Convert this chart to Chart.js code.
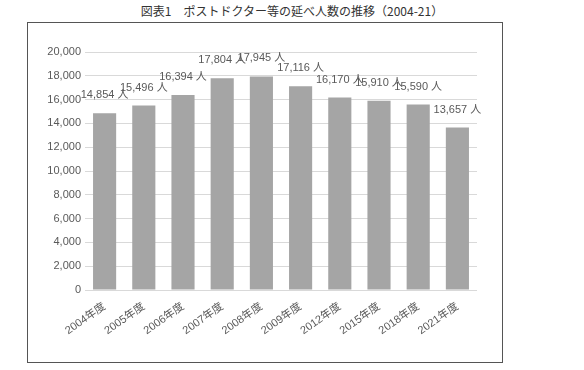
<!DOCTYPE html>
<html><head><meta charset="utf-8">
<script src="https://cdn.jsdelivr.net/npm/chart.js@4"></script>
<style>
html,body{margin:0;padding:0;background:#fff;}
#wrap{position:relative;width:584px;height:370px;}
#title{position:absolute;left:0;top:2px;width:584px;text-align:center;font:12px "Noto Sans CJK JP",sans-serif;color:#333;}
#frame{position:absolute;left:27px;top:22px;width:474px;height:339px;border:1px solid #555;box-sizing:content-box;}
canvas{position:absolute;left:0;top:0;}
</style></head>
<body>
<div id="wrap">
<div id="title">図表1　ポストドクター等の延べ人数の推移（2004-21）</div>
<div id="frame"></div>
<canvas id="c" width="584" height="370"></canvas>
</div>
<script>
const categories = ["2004年度","2005年度","2006年度","2007年度","2008年度","2009年度","2012年度","2015年度","2018年度","2021年度"];
const values = [14854,15496,16394,17804,17945,17116,16170,15910,15590,13657];
const unit = " 人";
const yMin = 0, yMax = 20000, yStep = 2000;

const FONT = '"Liberation Sans","Noto Sans CJK JP",sans-serif';

const barLabels = {
  id:'barLabels',
  afterDatasetsDraw(chart){
    const ctx = chart.ctx;
    const meta = chart.getDatasetMeta(0);
    ctx.save();
    ctx.font = '11px ' + FONT;
    ctx.fillStyle = '#595959';
    ctx.textAlign = 'center';
    ctx.textBaseline = 'middle';
    meta.data.forEach((bar,i)=>{
      ctx.fillText(values[i].toLocaleString('en-US') + unit, bar.x, bar.y - 18);
    });
    ctx.restore();
  }
};

new Chart(document.getElementById('c'),{
  type:'bar',
  data:{labels:categories,datasets:[{data:values,backgroundColor:'#a5a5a5',barPercentage:0.59,categoryPercentage:1}]},
  options:{
    responsive:false,animation:false,
    layout:{padding:{left:28,right:107,top:52,bottom:18}},
    plugins:{legend:{display:false},tooltip:{enabled:false}},
    scales:{
      y:{min:yMin,max:yMax,
        ticks:{stepSize:yStep,color:'#595959',font:{size:11,family:FONT},padding:4,
          callback:v=>v.toLocaleString('en-US')},
        grid:{color:'#d9d9d9',drawTicks:false},
        border:{display:false},
        afterFit(s){s.width=57;}
      },
      x:{
        ticks:{color:'#595959',font:{size:11,family:FONT},minRotation:35,maxRotation:35,padding:2},
        grid:{display:false},
        border:{display:false},
        afterFit(s){s.height=62;}
      }
    }
  },
  plugins:[barLabels]
});
</script>
</body></html>
